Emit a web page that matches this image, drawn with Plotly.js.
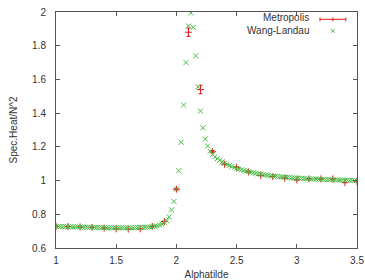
<!DOCTYPE html>
<html>
<head>
<meta charset="utf-8">
<script src="https://cdn.plot.ly/plotly-3.0.1.min.js"></script>
<style>html,body{margin:0;padding:0;background:#fff;}#chart{width:365px;height:280px;}</style>
</head>
<body>
<div id="chart"></div>
<script>
// Metropolis (with error bars)
var metroX = [1.0,1.1,1.2,1.3,1.4,1.5,1.6,1.7,1.8,1.9,2.0,2.1,2.2,2.3,2.4,2.5,2.6,2.7,2.8,2.9,3.0,3.1,3.2,3.3,3.4,3.5];
var metroY = [0.728,0.727,0.725,0.722,0.718,0.714,0.712,0.714,0.728,0.757,0.949,1.880,1.540,1.171,1.097,1.079,1.051,1.030,1.024,1.014,1.004,1.010,1.010,1.010,0.988,0.994];
var metroErr = [0.001,0.001,0.001,0.001,0.001,0.001,0.001,0.001,0.001,0.002,0.004,0.025,0.025,0.007,0.002,0.002,0.001,0.001,0.001,0.001,0.001,0.001,0.001,0.001,0.001,0.001];

// Wang-Landau
var wlX = [1.00,1.02,1.04,1.06,1.08,1.10,1.12,1.14,1.16,1.18,
           1.20,1.22,1.24,1.26,1.28,1.30,1.32,1.34,1.36,1.38,
           1.40,1.42,1.44,1.46,1.48,1.50,1.52,1.54,1.56,1.58,
           1.60,1.62,1.64,1.66,1.68,1.70,1.72,1.74,1.76,1.78,
           1.80,1.82,1.84,1.86,1.88,1.90,1.92,1.94,1.96,1.98,
           2.00,2.02,2.04,2.06,2.08,2.10,2.12,2.14,2.16,2.18,
           2.20,2.22,2.24,2.26,2.28,2.30,2.32,2.34,2.36,2.38,
           2.40,2.42,2.44,2.46,2.48,2.50,2.52,2.54,2.56,2.58,
           2.60,2.62,2.64,2.66,2.68,2.70,2.72,2.74,2.76,2.78,
           2.80,2.82,2.84,2.86,2.88,2.90,2.92,2.94,2.96,2.98,
           3.00,3.02,3.04,3.06,3.08,3.10,3.12,3.14,3.16,3.18,
           3.20,3.22,3.24,3.26,3.28,3.30,3.32,3.34,3.36,3.38,
           3.40,3.42,3.44,3.46,3.48,3.50];
var wlY = [0.728,0.728,0.727,0.727,0.727,0.726,0.726,0.725,0.725,0.725,
           0.724,0.724,0.723,0.723,0.723,0.722,0.722,0.722,0.721,0.721,
           0.721,0.720,0.720,0.720,0.720,0.720,0.720,0.720,0.720,0.720,
           0.720,0.720,0.720,0.721,0.721,0.722,0.722,0.723,0.724,0.725,
           0.727,0.729,0.732,0.736,0.742,0.750,0.762,0.785,0.826,0.876,
           0.950,1.059,1.227,1.448,1.700,1.917,1.995,1.909,1.740,1.556,
           1.412,1.313,1.247,1.205,1.174,1.155,1.141,1.130,1.120,1.111,
           1.103,1.096,1.090,1.084,1.078,1.073,1.068,1.064,1.060,1.056,
           1.052,1.049,1.046,1.043,1.040,1.038,1.035,1.033,1.031,1.029,
           1.027,1.026,1.024,1.023,1.021,1.020,1.019,1.018,1.017,1.016,
           1.015,1.014,1.013,1.012,1.011,1.011,1.010,1.009,1.009,1.008,
           1.007,1.007,1.006,1.006,1.005,1.005,1.004,1.004,1.003,1.003,
           1.002,1.002,1.001,1.001,1.000,1.000];

var seriesNames = ["Metropolis", "Wang-Landau"];
var xTitle = "Alphatilde";
var yTitle = "Spec.Heat/N^2";

var RED = "#e41a1a";
var GREEN = "#45bd45";
var FONT = "Liberation Sans, Arial, sans-serif";

var traces = [
  {
    x: metroX, y: metroY, type: "scatter", mode: "markers", name: seriesNames[0],
    marker: {symbol: "cross-thin-open", size: 5, line: {color: RED, width: 1}, color: RED},
    error_y: {type: "data", array: metroErr, visible: true, color: RED, thickness: 1, width: 2},
    showlegend: false, cliponaxis: true
  },
  {
    x: wlX, y: wlY, type: "scatter", mode: "markers", name: seriesNames[1],
    marker: {symbol: "x-thin-open", size: 5, line: {color: GREEN, width: 1}, color: GREEN},
    showlegend: false, cliponaxis: true
  }
];

// legend geometry (paper coords)
var lgLineY = 0.969, lgXY = 0.920;
var layout = {
  width: 365, height: 280,
  margin: {l: 56, r: 8, t: 12, b: 32, pad: 0},
  paper_bgcolor: "#fff", plot_bgcolor: "#fff",
  font: {family: FONT, size: 10, color: "#333"},
  showlegend: false,
  xaxis: {
    range: [1, 3.5], dtick: 0.5, tick0: 1,
    ticks: "inside", ticklen: 4, tickcolor: "#555", tickwidth: 1,
    showline: true, linecolor: "#555", linewidth: 1, mirror: "ticks",
    showgrid: false, zeroline: false, ticklabelstandoff: 3,
    tickfont: {family: FONT, size: 10, color: "#333"},
    title: {text: xTitle, font: {family: FONT, size: 10, color: "#333"}, standoff: 8},
    automargin: false
  },
  yaxis: {
    range: [0.6, 2], dtick: 0.2, tick0: 0.6,
    ticks: "inside", ticklen: 4, tickcolor: "#555", tickwidth: 1,
    showline: true, linecolor: "#555", linewidth: 1, mirror: "ticks",
    showgrid: false, zeroline: false, ticklabelstandoff: 7,
    tickfont: {family: FONT, size: 10, color: "#333"},
    title: {text: yTitle, font: {family: FONT, size: 10, color: "#333"}, standoff: 12},
    automargin: false
  },
  annotations: [
    {xref: "paper", yref: "paper", x: 0.847, y: 0.976, xanchor: "right", yanchor: "middle",
     text: seriesNames[0], showarrow: false, font: {family: FONT, size: 10, color: "#333"}},
    {xref: "paper", yref: "paper", x: 0.847, y: 0.920, xanchor: "right", yanchor: "middle",
     text: seriesNames[1], showarrow: false, font: {family: FONT, size: 10, color: "#333"}}
  ],
  shapes: [
    {type: "line", xref: "paper", yref: "paper", x0: 0.877, x1: 0.963, y0: lgLineY, y1: lgLineY, line: {color: RED, width: 1}},
    {type: "line", xref: "paper", yref: "paper", x0: 0.877, x1: 0.877, y0: lgLineY - 0.008, y1: lgLineY + 0.008, line: {color: RED, width: 1}},
    {type: "line", xref: "paper", yref: "paper", x0: 0.963, x1: 0.963, y0: lgLineY - 0.008, y1: lgLineY + 0.008, line: {color: RED, width: 1}},
    {type: "line", xref: "paper", yref: "paper", x0: 0.920, x1: 0.920, y0: lgLineY - 0.008, y1: lgLineY + 0.008, line: {color: RED, width: 1}},
    {type: "line", xref: "paper", yref: "paper", x0: 0.913, x1: 0.926, y0: lgXY - 0.008, y1: lgXY + 0.008, line: {color: GREEN, width: 1}},
    {type: "line", xref: "paper", yref: "paper", x0: 0.913, x1: 0.926, y0: lgXY + 0.008, y1: lgXY - 0.008, line: {color: GREEN, width: 1}}
  ]
};

Plotly.newPlot("chart", traces, layout, {staticPlot: true, displayModeBar: false});
</script>
</body>
</html>
